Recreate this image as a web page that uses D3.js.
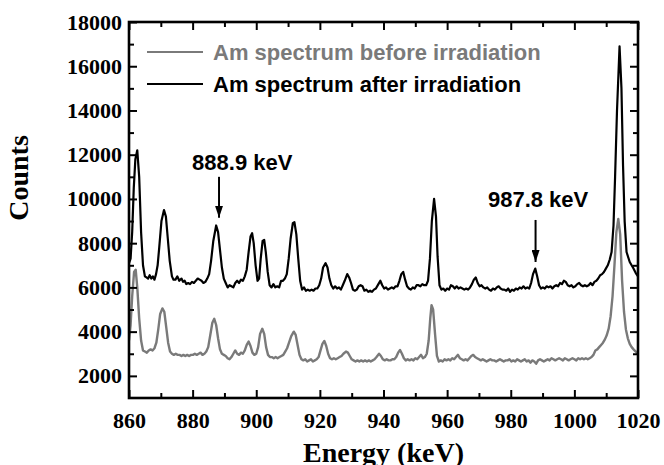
<!DOCTYPE html>
<html>
<head>
<meta charset="utf-8">
<script src="https://cdn.jsdelivr.net/npm/d3@7"></script>
<style>
  body { margin: 0; background: #fff; }
  svg { display: block; }
</style>
</head>
<body>
<svg id="chart" width="664" height="465"></svg>
<script>
// energy (keV), counts
const afterSpectrum = [
  [860,7100],[860.5,7300],[861,8500],[861.5,10500],[862,11800],[862.6,12200],[863.2,11000],[863.8,8500],
  [864.4,7000],[865,6500],[865.5,6450],[866,6400],[866.5,6550],[867,6400],[867.5,6500],[868,6350],
  [868.5,6600],[869,7000],[869.5,7800],[870.2,9000],[871,9500],[871.6,9200],[872.2,8200],[872.8,7200],
  [873.5,6500],[874,6350],[874.6,6350],[875.2,6500],[875.8,6300],[876.5,6400],[877,6250],[877.5,6300],
  [878,6150],[878.6,6200],[879.2,6150],[879.8,6250],[880.4,6200],[881,6300],[881.6,6400],[882.2,6350],
  [882.8,6300],[883.4,6200],[884,6250],[884.6,6400],[885.2,6600],[885.8,7200],[886.5,8100],[887.4,8800],
  [888,8500],[888.6,7700],[889.2,6900],[889.8,6400],[890.4,6200],[891,6000],[891.6,6100],[892.2,6050],
  [892.8,6000],[893.4,6200],[894,6300],[894.6,6200],[895.2,6350],[895.8,6300],[896.4,6500],[897,6800],
  [897.6,7600],[898.2,8300],[898.7,8450],[899.2,8000],[899.8,7000],[900.4,6300],[900.9,6400],[901.4,7300],
  [902,8100],[902.5,8150],[903,7600],[903.6,6700],[904.2,6100],[904.8,6000],[905.4,6150],[906,6000],
  [906.6,6050],[907.2,6000],[907.8,6300],[908.4,6300],[909,6400],[909.6,6600],[910.2,7300],[910.8,8200],
  [911.5,8900],[912,8950],[912.6,8400],[913.2,7300],[913.8,6300],[914.4,5900],[915,6000],[915.6,5850],
  [916.2,5900],[916.8,5850],[917.4,5900],[918,5850],[918.6,5950],[919.2,5950],[919.8,6100],[920.4,6400],
  [921,6900],[921.8,7100],[922.4,6900],[923,6400],[923.6,6100],[924.2,5950],[924.8,6050],[925.4,5950],
  [926,6000],[926.6,5900],[927.2,6100],[927.8,6300],[928.6,6600],[929.2,6450],[929.8,6200],[930.4,5900],
  [931,5850],[931.6,5900],[932.2,6050],[932.8,6100],[933.4,6050],[934,5850],[934.6,5900],[935.2,5800],
  [935.8,5850],[936.4,5800],[937,5900],[937.6,5950],[938.4,6150],[939,6300],[939.6,6100],[940.2,5950],
  [940.8,6000],[941.4,5900],[942,5950],[942.6,6000],[943.2,5950],[943.8,6050],[944.4,6050],[945,6300],
  [945.6,6600],[946.2,6700],[946.8,6350],[947.4,6050],[948,5950],[948.6,5900],[949.2,6000],[949.8,5950],
  [950.4,6100],[951,6100],[951.6,6050],[952.2,6150],[952.8,6100],[953.4,6100],[954,6300],[954.6,7300],
  [955.2,9000],[955.9,10000],[956.5,9200],[957,7400],[957.6,6100],[958.2,5900],[958.8,5950],[959.4,5850],
  [960,5950],[960.6,5900],[961.2,6100],[961.8,6050],[962.4,5950],[963,6050],[963.6,5950],[964.2,6000],
  [964.8,5950],[965.4,5900],[966,5950],[966.6,5900],[967.2,6000],[967.8,6150],[968.4,6350],[969,6450],
  [969.6,6200],[970.2,6050],[970.8,6100],[971.4,6000],[972,5950],[972.6,6000],[973.2,5900],[973.8,5850],
  [974.4,5950],[975,5900],[975.6,6000],[976.2,6050],[976.8,5950],[977.4,5900],[978,5900],[978.6,5850],
  [979.2,5950],[979.8,5800],[980.4,5900],[981,5850],[981.6,5950],[982.2,5900],[982.8,6000],[983.4,5950],
  [984,6050],[984.6,5950],[985.2,6000],[985.8,5950],[986.4,6200],[987,6600],[987.7,6850],[988.3,6500],
  [988.9,6100],[989.5,5950],[990.1,6000],[990.7,5950],[991.3,6050],[991.9,6000],[992.5,6050],[993.1,5950],
  [993.7,6050],[994.3,6100],[994.9,6050],[995.5,6200],[996.1,6150],[996.7,6300],[997.3,6250],[997.9,6100],
  [998.5,6050],[999.1,6100],[999.7,6000],[1000.3,6050],[1000.9,6150],[1001.5,6200],[1002.1,6100],[1002.7,6050],
  [1003.3,6100],[1003.9,6050],[1004.5,6100],[1005.1,6200],[1005.7,6100],[1006.3,6250],[1006.9,6300],[1007.5,6400],
  [1008.1,6550],[1008.7,6600],[1009.3,6700],[1009.9,6850],[1010.5,7000],[1011.1,7250],[1011.7,7600],[1012.3,8800],
  [1012.8,11000],[1013.4,14000],[1014.2,16900],[1014.8,15000],[1015.3,11500],[1015.8,9000],[1016.4,7600],[1017.4,7150],
  [1018.5,6880],[1019.3,6650],[1020,6500]
];

const beforeSpectrum = [
  [860,3600],[860.5,4300],[861,5600],[861.6,6700],[862.1,6800],[862.6,6000],[863.2,4600],[863.8,3600],
  [864.4,3150],[865,3100],[865.6,3050],[866.2,3150],[866.8,3200],[867.4,3150],[868,3250],[868.6,3500],
  [869.2,4100],[869.8,4800],[870.5,5050],[871.1,4900],[871.7,4200],[872.3,3500],[872.9,3100],[873.5,3000],
  [874.1,2950],[874.7,3000],[875.3,2950],[875.9,2950],[876.5,2900],[877.1,2950],[877.7,2900],[878.3,2950],
  [878.9,2900],[879.5,2950],[880.1,2950],[880.7,3000],[881.3,2950],[881.9,3000],[882.5,3050],[883.1,2950],
  [883.7,3000],[884.3,3100],[884.9,3300],[885.5,3800],[886.2,4400],[886.8,4580],[887.4,4300],[888,3700],
  [888.6,3200],[889.2,3000],[889.8,2950],[890.4,2900],[891,2800],[891.6,2750],[892.2,2850],[892.8,3000],
  [893.4,3150],[894,3000],[894.6,2950],[895.2,3050],[895.8,3000],[896.4,3150],[897,3400],[897.6,3550],
  [898.2,3350],[898.8,3050],[899.4,2950],[900,3000],[900.6,3300],[901.2,3900],[901.9,4130],[902.5,3900],
  [903.1,3300],[903.7,2950],[904.3,2850],[904.9,2850],[905.5,2800],[906.1,2850],[906.7,2800],[907.3,2850],
  [907.9,2900],[908.5,2950],[909.1,3100],[909.7,3250],[910.3,3500],[911,3800],[911.8,4000],[912.4,3850],
  [913,3400],[913.6,2950],[914.2,2750],[914.8,2700],[915.4,2750],[916,2650],[916.6,2700],[917.2,2750],
  [917.8,2650],[918.4,2700],[919,2750],[919.6,2850],[920.2,3150],[920.8,3450],[921.4,3580],[922,3350],
  [922.6,3000],[923.2,2800],[923.8,2750],[924.4,2800],[925,2750],[925.6,2800],[926.2,2850],[926.8,2900],
  [927.4,3000],[928.2,3100],[928.8,3050],[929.4,2900],[930,2750],[930.6,2700],[931.2,2650],[931.8,2700],
  [932.4,2650],[933,2700],[933.6,2650],[934.2,2700],[934.8,2650],[935.4,2700],[936,2650],[936.6,2700],
  [937.2,2750],[937.8,2850],[938.6,3000],[939.2,2900],[939.8,2750],[940.4,2700],[941,2750],[941.6,2700],
  [942.2,2700],[942.8,2750],[943.4,2750],[944,2850],[944.6,3050],[945.2,3170],[945.8,3000],[946.4,2800],
  [947,2700],[947.6,2750],[948.2,2700],[948.8,2750],[949.4,2700],[950,2800],[950.6,2750],[951.2,2850],
  [951.8,2950],[952.4,2800],[953,2850],[953.6,3000],[954.2,3600],[954.7,4600],[955.1,5200],[955.6,5000],
  [956.2,3900],[956.8,2900],[957.4,2650],[958,2700],[958.6,2650],[959.2,2750],[959.8,2700],[960.4,2750],
  [961,2700],[961.6,2800],[962.2,2750],[962.8,2850],[963.4,2950],[964,2800],[964.6,2750],[965.2,2700],
  [965.8,2750],[966.4,2700],[967,2800],[967.6,2900],[968.2,2950],[968.8,2850],[969.4,2800],[970,2750],
  [970.6,2700],[971.2,2750],[971.8,2700],[972.4,2650],[973,2700],[973.6,2750],[974.2,2700],[974.8,2700],
  [975.4,2650],[976,2700],[976.6,2750],[977.2,2700],[977.8,2650],[978.4,2700],[979,2700],[979.6,2750],
  [980.2,2650],[980.8,2700],[981.4,2650],[982,2750],[982.6,2700],[983.2,2650],[983.8,2700],[984.4,2750],
  [985,2650],[985.6,2700],[986.2,2600],[986.8,2700],[987.4,2650],[988,2550],[988.6,2700],[989.2,2750],
  [989.8,2700],[990.4,2650],[991,2700],[991.6,2750],[992.2,2700],[992.8,2800],[993.4,2750],[994,2700],
  [994.6,2750],[995.2,2800],[995.8,2750],[996.4,2700],[997,2800],[997.6,2750],[998.2,2700],[998.8,2750],
  [999.4,2800],[1000,2750],[1000.6,2700],[1001.2,2800],[1001.8,2750],[1002.4,2800],[1003,2750],[1003.6,2800],
  [1004.2,2750],[1004.8,2800],[1005.4,2850],[1006,2950],[1006.6,3150],[1007.2,3200],[1007.8,3300],[1008.4,3400],
  [1009,3500],[1009.6,3650],[1010.2,3850],[1010.8,4150],[1011.4,4700],[1012,5600],[1012.6,7000],[1013.2,8500],
  [1013.8,9100],[1014.4,8400],[1015,6300],[1015.6,4900],[1016.2,4100],[1016.8,3700],[1017.4,3450],[1018,3300],
  [1018.6,3200],[1019.3,3100],[1020,3000]
];

const seriesNames = ["Am spectrum before irradiation", "Am spectrum after irradiation"];
const xTicks = [860, 880, 900, 920, 940, 960, 980, 1000, 1020];
const yTicks = [2000, 4000, 6000, 8000, 10000, 12000, 14000, 16000, 18000];
// peak markers: label, arrow energy, arrow top / tip counts, label position
const peakLabels = ["888.9 keV", "987.8 keV"];
const peakEnergy = [888.3, 987.8];
const arrowFrom = [11000, 9050];
const arrowTo = [9150, 7150];
const labelAt = [[895.6, 11320], [988.6, 9620]];

const svg = d3.select("#chart");
const plotL = 129, plotR = 638, plotT = 22, plotB = 398;

const x = d3.scaleLinear().domain([860, 1020]).range([plotL, plotR]);
const y = d3.scaleLinear().domain([1000, 18000]).range([plotB, plotT]);

const serif = "'Liberation Serif', 'Times New Roman', serif";
const sans = "'Liberation Sans', Arial, sans-serif";

svg.append("defs").append("clipPath").attr("id", "plot")
  .append("rect").attr("x", plotL).attr("y", plotT)
  .attr("width", plotR - plotL).attr("height", plotB - plotT);

const line = d3.line().x(d => x(d[0])).y(d => y(d[1]));

svg.append("path")
  .datum(afterSpectrum)
  .attr("clip-path", "url(#plot)")
  .attr("d", line)
  .attr("fill", "none")
  .attr("stroke", "#000")
  .attr("stroke-width", 2.2)
  .attr("stroke-linejoin", "round");

svg.append("path")
  .datum(beforeSpectrum)
  .attr("clip-path", "url(#plot)")
  .attr("d", line)
  .attr("fill", "none")
  .attr("stroke", "#7a7a7a")
  .attr("stroke-width", 2.4)
  .attr("stroke-linejoin", "round");

// axes: ticks point inward on all four sides
const xMinor = d3.range(870, 1020, 20);
const yMinor = d3.range(3000, 18000, 2000);

function axisTicks(g, axis) {
  g.call(axis);
  g.select(".domain").remove();
  g.selectAll("line").attr("stroke", "#000").attr("stroke-width", 2);
}

svg.append("g").attr("transform", `translate(0,${plotB})`)
  .call(g => axisTicks(g, d3.axisBottom(x).tickValues(xTicks).tickSize(-8).tickFormat(d3.format("d"))))
  .call(g => g.selectAll("text").attr("y", 14).attr("dy", "0.71em"));
svg.append("g").attr("transform", `translate(0,${plotB})`)
  .call(g => axisTicks(g, d3.axisBottom(x).tickValues(xMinor).tickSize(-5).tickFormat("")));
svg.append("g").attr("transform", `translate(0,${plotT})`)
  .call(g => axisTicks(g, d3.axisTop(x).tickValues(xTicks).tickSize(-8).tickFormat("")));
svg.append("g").attr("transform", `translate(0,${plotT})`)
  .call(g => axisTicks(g, d3.axisTop(x).tickValues(xMinor).tickSize(-5).tickFormat("")));

svg.append("g").attr("transform", `translate(${plotL},0)`)
  .call(g => axisTicks(g, d3.axisLeft(y).tickValues(yTicks).tickSize(-8).tickFormat(d3.format("d"))))
  .call(g => g.selectAll("text").attr("x", -7));
svg.append("g").attr("transform", `translate(${plotL},0)`)
  .call(g => axisTicks(g, d3.axisLeft(y).tickValues(yMinor).tickSize(-5).tickFormat("")));
svg.append("g").attr("transform", `translate(${plotR},0)`)
  .call(g => axisTicks(g, d3.axisRight(y).tickValues(yTicks).tickSize(-8).tickFormat("")));
svg.append("g").attr("transform", `translate(${plotR},0)`)
  .call(g => axisTicks(g, d3.axisRight(y).tickValues(yMinor).tickSize(-5).tickFormat("")));

svg.selectAll("g text")
  .attr("font-family", serif)
  .attr("font-weight", "bold")
  .attr("font-size", 22)
  .attr("fill", "#000");

// frame
svg.append("rect")
  .attr("x", plotL).attr("y", plotT)
  .attr("width", plotR - plotL).attr("height", plotB - plotT)
  .attr("fill", "none").attr("stroke", "#000").attr("stroke-width", 2.6);

// axis titles
svg.append("text")
  .attr("x", (plotL + plotR) / 2).attr("y", 462)
  .attr("text-anchor", "middle")
  .attr("font-family", serif).attr("font-weight", "bold").attr("font-size", 28)
  .text("Energy (keV)");

svg.append("text")
  .attr("transform", "translate(28,178) rotate(-90)")
  .attr("text-anchor", "middle")
  .attr("font-family", serif).attr("font-weight", "bold").attr("font-size", 28)
  .text("Counts");

// legend
const legendColors = ["#7a7a7a", "#000"];
const legend = svg.append("g");
seriesNames.forEach((name, i) => {
  const ly = 52 + i * 32;
  legend.append("line")
    .attr("x1", 147).attr("x2", 203).attr("y1", ly).attr("y2", ly)
    .attr("stroke", legendColors[i]).attr("stroke-width", 2.2);
  legend.append("text")
    .attr("x", 213).attr("y", ly + 8)
    .attr("font-family", sans).attr("font-weight", "bold").attr("font-size", 22)
    .attr("fill", legendColors[i])
    .text(name);
});

// peak annotations
svg.append("defs").append("marker")
  .attr("id", "arrow").attr("viewBox", "0 0 12 8")
  .attr("refX", 12).attr("refY", 4)
  .attr("markerWidth", 12).attr("markerHeight", 8)
  .attr("markerUnits", "userSpaceOnUse")
  .attr("orient", "auto")
  .append("path").attr("d", "M0,0L12,4L0,8Z").attr("fill", "#000");

peakLabels.forEach((lab, i) => {
  svg.append("line")
    .attr("x1", x(peakEnergy[i])).attr("x2", x(peakEnergy[i]))
    .attr("y1", y(arrowFrom[i])).attr("y2", y(arrowTo[i]))
    .attr("stroke", "#000").attr("stroke-width", 2)
    .attr("marker-end", "url(#arrow)");
  svg.append("text")
    .attr("x", x(labelAt[i][0])).attr("y", y(labelAt[i][1]))
    .attr("text-anchor", "middle")
    .attr("font-family", sans).attr("font-weight", "bold").attr("font-size", 22)
    .text(lab);
});
</script>
</body>
</html>
